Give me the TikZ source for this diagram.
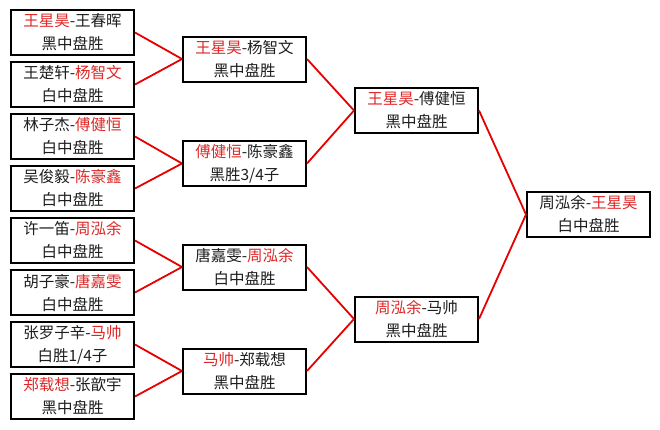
\documentclass[tikz,border=0pt]{standalone}
\usepackage{fontspec}
\setmainfont{Noto Sans CJK SC}
\definecolor{wred}{RGB}{222,40,40}
\definecolor{lred}{RGB}{230,0,0}
\definecolor{txt}{RGB}{30,30,30}
\newcommand\rn[1]{\textcolor{wred}{#1}}
\begin{document}
\begin{tikzpicture}[x=1pt,y=-1pt,
  box/.style={draw=black,line width=2pt,minimum width=123pt,minimum height=45pt,
    inner sep=0pt,align=center,text=txt,font=\fontsize{15.5}{23}\selectfont,fill=white},
  link/.style={draw=lred,line width=1.8pt}]
\useasboundingbox[fill=white] (0,0) rectangle (660,429);
% round 1
\node[box] (a1) at (72.5,32.5)  {\rn{王星昊}-王春晖\\黑中盘胜};
\node[box] (a2) at (72.5,84.5)  {王楚轩-\rn{杨智文}\\白中盘胜};
\node[box] (a3) at (72.5,136.5) {林子杰-\rn{傅健恒}\\白中盘胜};
\node[box] (a4) at (72.5,188.5) {吴俊毅-\rn{陈豪鑫}\\白中盘胜};
\node[box] (a5) at (72.5,240.5) {许一笛-\rn{周泓余}\\白中盘胜};
\node[box] (a6) at (72.5,292.5) {胡子豪-\rn{唐嘉雯}\\白中盘胜};
\node[box] (a7) at (72.5,344.5) {张罗子辛-\rn{马帅}\\白胜1/4子};
\node[box] (a8) at (72.5,396.5) {\rn{郑载想}-张歆宇\\黑中盘胜};
% round 2
\node[box] (b1) at (244.5,59)    {\rn{王星昊}-杨智文\\黑中盘胜};
\node[box] (b2) at (244.5,163.5) {\rn{傅健恒}-陈豪鑫\\黑胜3/4子};
\node[box] (b3) at (244.5,267)   {唐嘉雯-\rn{周泓余}\\白中盘胜};
\node[box] (b4) at (244.5,371)   {\rn{马帅}-郑载想\\黑中盘胜};
% round 3
\node[box] (c1) at (416.5,110.5) {\rn{王星昊}-傅健恒\\黑中盘胜};
\node[box] (c2) at (416.5,319)   {\rn{周泓余}-马帅\\黑中盘胜};
% final
\node[box] (d1) at (588.5,214.5) {周泓余-\rn{王星昊}\\白中盘胜};
% links
\draw[link] (a1.east) -- (b1.west);
\draw[link] (a2.east) -- (b1.west);
\draw[link] (a3.east) -- (b2.west);
\draw[link] (a4.east) -- (b2.west);
\draw[link] (a5.east) -- (b3.west);
\draw[link] (a6.east) -- (b3.west);
\draw[link] (a7.east) -- (b4.west);
\draw[link] (a8.east) -- (b4.west);
\draw[link] (b1.east) -- (c1.west);
\draw[link] (b2.east) -- (c1.west);
\draw[link] (b3.east) -- (c2.west);
\draw[link] (b4.east) -- (c2.west);
\draw[link] (c1.east) -- (d1.west);
\draw[link] (c2.east) -- (d1.west);
\end{tikzpicture}
\end{document}
